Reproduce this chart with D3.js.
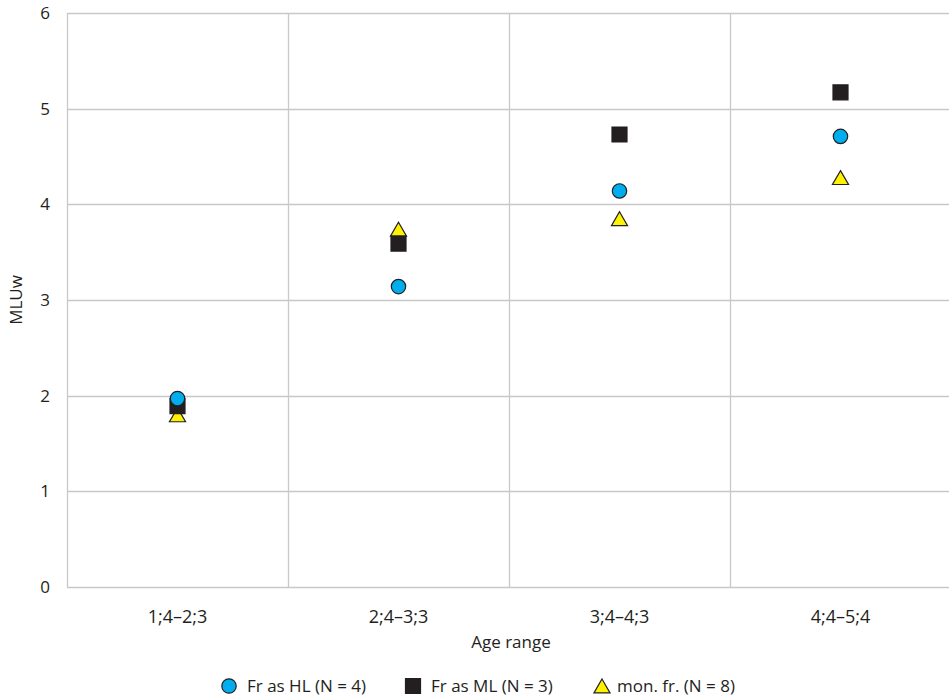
<!DOCTYPE html>
<meta charset="utf-8">
<style>
  body { margin: 0; background: #fff; }
  text { font-family: "Open Sans", "Noto Sans", sans-serif; fill: #231f20; }
</style>
<svg id="chart" width="949" height="697"></svg>
<script src="https://d3js.org/d3.v7.min.js"></script>
<script>
// data
const ageRanges = ["1;4\u20132;3", "2;4\u20133;3", "3;4\u20134;3", "4;4\u20135;4"];
const frHL = [1.97, 3.14, 4.14, 4.71];
const frML = [1.89, 3.59, 4.73, 5.17];
const monFr = [1.80, 3.74, 3.85, 4.28];
const seriesNames = ["Fr as HL (N = 4)", "Fr as ML (N = 3)", "mon. fr. (N = 8)"];
const yTicks = [0, 1, 2, 3, 4, 5, 6];

const margin = {top: 13, right: -2, bottom: 110, left: 67};
const width = 949, height = 697;

const svg = d3.select("#chart");

const x = d3.scaleBand()
    .domain(ageRanges)
    .range([margin.left, width - margin.right]);

const y = d3.scaleLinear()
    .domain([0, 6])
    .range([height - margin.bottom, margin.top]);

const grid = svg.append("g").attr("stroke", "#c8c8c8").attr("stroke-width", 1.3);

// horizontal gridlines
grid.selectAll("line.h")
  .data(yTicks)
  .join("line")
    .attr("x1", margin.left)
    .attr("x2", width)
    .attr("y1", d => Math.round(y(d)) + 0.5)
    .attr("y2", d => Math.round(y(d)) + 0.5);

// vertical category separators
grid.selectAll("line.v")
  .data(ageRanges)
  .join("line")
    .attr("x1", d => Math.round(x(d)) + 0.5)
    .attr("x2", d => Math.round(x(d)) + 0.5)
    .attr("y1", y(6))
    .attr("y2", y(0));

// y axis labels
svg.append("g")
  .selectAll("text")
  .data(yTicks)
  .join("text")
    .attr("x", 50)
    .attr("y", d => y(d))
    .attr("dy", "0.35em")
    .attr("text-anchor", "end")
    .style("font-size", "17px")
    .text(d => d);

// x axis labels
svg.append("g")
  .selectAll("text")
  .data(ageRanges)
  .join("text")
    .attr("x", d => x(d) + x.bandwidth() / 2)
    .attr("y", y(0) + 36)
    .attr("text-anchor", "middle")
    .style("font-size", "18px")
    .text(d => d);

svg.append("text")
    .attr("x", 511)
    .attr("y", 648)
    .attr("text-anchor", "middle")
    .style("font-size", "17px")
    .text("Age range");

svg.append("text")
    .attr("transform", "translate(22," + (y(3)) + ") rotate(-90)")
    .attr("text-anchor", "middle")
    .style("font-size", "17px")
    .text("MLUw");

const cx = d => x(d) + x.bandwidth() / 2;

// marker shapes
const sym = {
  circle: d3.symbol().type(d3.symbolCircle).size(Math.PI * 7.2 * 7.2),
  square: d3.symbol().type(d3.symbolSquare).size(15 * 15),
  triangle: d3.symbol().type(d3.symbolTriangle).size(112)
};
// d3 triangles sit on their centroid; shift so the box centre sits on the value
const triShift = Math.sqrt(112 / (3 * Math.sqrt(3))) * 0.5;
const styles = [
  {shape: "circle", fill: "#00aeef", stroke: "#231f20", dy: 0},
  {shape: "square", fill: "#231f20", stroke: "#231f20", dy: 0},
  {shape: "triangle", fill: "#fff200", stroke: "#231f20", dy: triShift}
];
const allSeries = [frHL, frML, monFr];

// draw triangle first, then square, then circle (circle on top at first cluster)
[2, 1, 0].forEach(si => {
  const st = styles[si];
  svg.append("g")
    .selectAll("path")
    .data(allSeries[si])
    .join("path")
      .attr("d", sym[st.shape])
      .attr("transform", (d, i) => "translate(" + cx(ageRanges[i]) + "," + (y(d) + st.dy) + ")")
      .attr("fill", st.fill)
      .attr("stroke", st.stroke)
      .attr("stroke-width", 1.2);
});

// legend
const legendX = [229, 413, 602];
const legend = svg.append("g")
  .selectAll("g")
  .data(seriesNames)
  .join("g")
    .attr("transform", (d, i) => "translate(" + legendX[i] + ",686)");

legend.append("path")
    .attr("d", (d, i) => sym[styles[i].shape]())
    .attr("transform", (d, i) => "translate(0," + styles[i].dy + ")")
    .attr("fill", (d, i) => styles[i].fill)
    .attr("stroke", (d, i) => styles[i].stroke)
    .attr("stroke-width", 1.2);

legend.append("text")
    .attr("x", (d, i) => i === 2 ? 15 : 18)
    .attr("dy", "0.35em")
    .style("font-size", "17px")
    .text(d => d);
</script>
